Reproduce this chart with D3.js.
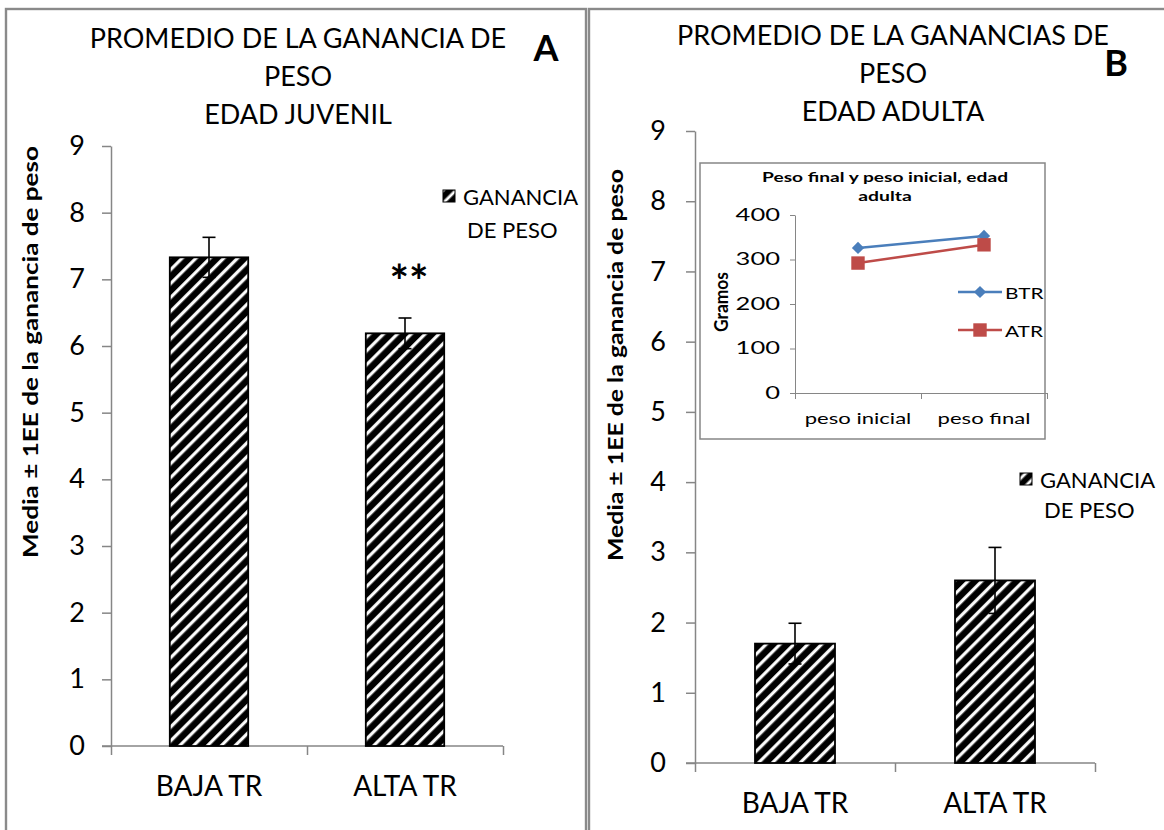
<!DOCTYPE html>
<html>
<head>
<meta charset="utf-8">
<script src="https://cdn.jsdelivr.net/npm/d3@7/dist/d3.min.js"></script>
<style>
  html, body { margin: 0; padding: 0; background: #fff; }
  svg { display: block; }
  text { font-family: Lato, "Open Sans", "Liberation Sans", sans-serif; fill: #000; }
</style>
</head>
<body>
<svg id="chart" width="1164" height="830"></svg>
<script>
// ---- data ----
const categories = ["BAJA TR", "ALTA TR"];
const juvenilMeans = [7.33, 6.19];
const juvenilErrors = [0.30, 0.23];
const adultaMeans = [1.70, 2.60];
const adultaErrors = [0.29, 0.47];
const yTicks = [0, 1, 2, 3, 4, 5, 6, 7, 8, 9];

const insetCategories = ["peso inicial", "peso final"];
const btrWeights = [326, 353];
const atrWeights = [292, 333];
const insetTicks = [0, 100, 200, 300, 400];

const svg = d3.select("#chart");
const defs = svg.append("defs");

// widen glyphs horizontally by factor k
function stretchText(sel, k) {
  sel.each(function () {
    const len = this.getComputedTextLength();
    d3.select(this).attr("textLength", len * k).attr("lengthAdjust", "spacingAndGlyphs");
  });
}
// force a text run to a given length
function fitText(sel, len) {
  sel.attr("textLength", len).attr("lengthAdjust", "spacingAndGlyphs");
}

// diagonal black/white hatch used for the bars and legend swatches
function hatch(id, period) {
  const p = defs.append("pattern")
    .attr("id", id)
    .attr("patternUnits", "userSpaceOnUse")
    .attr("width", period).attr("height", period)
    .attr("patternTransform", "rotate(45)");
  const grad = defs.append("linearGradient").attr("id", id + "-g")
    .attr("x1", 0).attr("x2", 1).attr("y1", 0).attr("y2", 0);
  [[0, "#000"], [0.56, "#000"], [0.66, "#fff"], [0.86, "#fff"], [1, "#000"]]
    .forEach(([o, c]) => grad.append("stop").attr("offset", o).attr("stop-color", c));
  p.append("rect").attr("width", period).attr("height", period)
    .attr("fill", `url(#${id}-g)`);
}
hatch("stripes", 9.8);
hatch("stripes-small", 9);

const axisGray = "#868686";

// ---- panel frames ----
svg.append("rect").attr("x", 6).attr("y", 9).attr("width", 580).attr("height", 840)
  .attr("fill", "none").attr("stroke", "#8a8a8a").attr("stroke-width", 2.4);
svg.append("rect").attr("x", 589).attr("y", 9).attr("width", 600).attr("height", 840)
  .attr("fill", "none").attr("stroke", "#8a8a8a").attr("stroke-width", 2.4);

function styleAxis(g) {
  g.selectAll(".domain").attr("stroke", axisGray).attr("stroke-width", 1.5);
  g.selectAll(".tick line").attr("stroke", axisGray).attr("stroke-width", 1.5);
}

function barPanel(opt) {
  const g = svg.append("g");
  const y = d3.scaleLinear().domain([0, 9]).range([opt.y0, opt.y9]);
  const x = d3.scaleBand().domain(categories).range([opt.xL, opt.xR])
    .paddingInner(0.6).paddingOuter(0.3);
  const xb = d3.scaleLinear().domain([0, categories.length]).range([opt.xL, opt.xR]);

  // titles
  opt.title.forEach((t, i) => {
    g.append("text").attr("x", opt.titleX).attr("y", opt.titleY + i * 38)
      .attr("text-anchor", "middle").attr("font-size", 27).text(t);
  });
  g.append("text").attr("x", opt.letterX).attr("y", opt.letterY)
    .attr("text-anchor", "middle").attr("font-size", 36).attr("font-weight", "bold")
    .text(opt.letter);

  // y axis
  const ya = g.append("g").attr("transform", `translate(${opt.xL},0)`)
    .call(d3.axisLeft(y).tickValues(yTicks).tickSize(9).tickSizeOuter(0).tickPadding(opt.tickPad));
  styleAxis(ya);
  ya.selectAll(".tick text").attr("font-size", 27).attr("font-family", "Lato, sans-serif");

  // x axis line with boundary ticks
  const xa = g.append("g").attr("transform", `translate(0,${opt.y0})`)
    .call(d3.axisBottom(xb).tickValues([0, 1, 2]).tickSize(9).tickFormat(""));
  styleAxis(xa);
  xa.select(".domain").attr("d", `M${opt.xL - 9},0H${opt.xR}`);

  // category labels
  const xl = g.append("g").attr("transform", `translate(0,${opt.y0})`)
    .call(d3.axisBottom(x).tickSize(0).tickPadding(30));
  xl.select(".domain").remove();
  xl.selectAll(".tick text").attr("font-size", 28).attr("font-family", "Lato, sans-serif");

  // y label
  g.append("text")
    .attr("transform", `translate(${opt.ylabX},${opt.ylabY}) rotate(-90)`)
    .attr("text-anchor", "middle").attr("font-size", 21).attr("font-weight", "bold")
    .text("Media ± 1EE de la ganancia de peso")
    .call(fitText, opt.ylabLen);

  // bars
  g.selectAll(".bar").data(categories).join("rect")
    .attr("x", d => x(d)).attr("width", x.bandwidth())
    .attr("y", (d, i) => y(opt.means[i]))
    .attr("height", (d, i) => y(0) - y(opt.means[i]))
    .attr("fill", "url(#stripes)").attr("stroke", "#000").attr("stroke-width", 1.8);

  // error bars (±1 EE)
  const eb = g.selectAll(".err").data(categories).join("g");
  eb.append("line")
    .attr("x1", d => x(d) + x.bandwidth() / 2).attr("x2", d => x(d) + x.bandwidth() / 2)
    .attr("y1", (d, i) => y(opt.means[i] + opt.errors[i]))
    .attr("y2", (d, i) => y(opt.means[i] - opt.errors[i]))
    .attr("stroke", "#000").attr("stroke-width", 1.6);
  [1, -1].forEach(s => {
    eb.append("line")
      .attr("x1", d => x(d) + x.bandwidth() / 2 - 6.5).attr("x2", d => x(d) + x.bandwidth() / 2 + 6.5)
      .attr("y1", (d, i) => y(opt.means[i] + s * opt.errors[i]))
      .attr("y2", (d, i) => y(opt.means[i] + s * opt.errors[i]))
      .attr("stroke", "#000").attr("stroke-width", 1.6);
  });

  // legend
  g.append("rect").attr("x", opt.legX).attr("y", opt.legY - 6).attr("width", 12).attr("height", 12)
    .attr("fill", "url(#stripes-small)").attr("stroke", "#000").attr("stroke-width", 1);
  g.append("text").attr("x", opt.legX + 20).attr("y", opt.legY).attr("dominant-baseline", "central")
    .attr("font-size", 22).text("GANANCIA");
  g.append("text").attr("x", opt.legX + 24).attr("y", opt.legY + opt.legGap).attr("dominant-baseline", "central")
    .attr("font-size", 22).text("DE PESO");

  return { g, x, y };
}

// ---- panel A: juvenile ----
const A = barPanel({
  xL: 111, xR: 503, y0: 746, y9: 146, tickPad: 17,
  means: juvenilMeans, errors: juvenilErrors,
  title: ["PROMEDIO DE LA GANANCIA DE", "PESO", "EDAD JUVENIL"],
  titleX: 298, titleY: 48,
  letter: "A", letterX: 546, letterY: 61,
  ylabX: 38, ylabY: 352, ylabLen: 412,
  legX: 443, legY: 196, legGap: 33
});
// significance marker
A.g.append("text")
  .attr("x", A.x("ALTA TR") + A.x.bandwidth() / 2 + 4)
  .attr("y", A.y(6.19 + 0.23) - 20)
  .attr("text-anchor", "middle").attr("font-size", 46).attr("font-weight", "bold")
  .attr("font-family", "'DejaVu Sans', sans-serif")
  .text("**");

// ---- panel B: adult ----
const B = barPanel({
  xL: 695, xR: 1095, y0: 763, y9: 131, tickPad: 20,
  means: adultaMeans, errors: adultaErrors,
  title: ["PROMEDIO DE LA GANANCIAS DE", "PESO", "EDAD ADULTA"],
  titleX: 893, titleY: 45,
  letter: "B", letterX: 1116, letterY: 76,
  ylabX: 623, ylabY: 365, ylabLen: 392,
  legX: 1020, legY: 479, legGap: 30
});

// ---- inset: initial vs final weight ----
const ins = svg.append("g");
ins.append("rect").attr("x", 700).attr("y", 163).attr("width", 345).attr("height", 276)
  .attr("fill", "#fff").attr("stroke", axisGray).attr("stroke-width", 1.5);
ins.append("text").attr("x", 885).attr("y", 182).attr("text-anchor", "middle")
  .attr("font-size", 13.5).attr("font-weight", "bold").text("Peso final y peso inicial, edad")
  .call(fitText, 246);
ins.append("text").attr("x", 885).attr("y", 201).attr("text-anchor", "middle")
  .attr("font-size", 13.5).attr("font-weight", "bold").text("adulta")
  .call(stretchText, 1.43);

const yi = d3.scaleLinear().domain([0, 400]).range([393, 215]);
const xi = d3.scaleBand().domain(insetCategories).range([795, 1047]);
const xib = d3.scaleLinear().domain([0, 2]).range([795, 1047]);

const yia = ins.append("g").attr("transform", "translate(795,0)")
  .call(d3.axisLeft(yi).tickValues(insetTicks).tickSize(5).tickSizeOuter(0).tickPadding(10));
styleAxis(yia);
yia.selectAll(".domain, .tick line").attr("stroke-width", 1);
yia.selectAll(".tick text").attr("font-size", 17).attr("font-family", "Lato, sans-serif")
  .call(stretchText, 1.5);

const xia = ins.append("g").attr("transform", "translate(0,393)")
  .call(d3.axisBottom(xib).tickValues([0, 1, 2]).tickSize(6).tickFormat(""));
styleAxis(xia);
xia.selectAll(".domain, .tick line").attr("stroke-width", 1);

const xil = ins.append("g").attr("transform", "translate(0,393)")
  .call(d3.axisBottom(xi).tickSize(0).tickPadding(20));
xil.select(".domain").remove();
xil.selectAll(".tick text").attr("font-size", 15).attr("font-family", "Lato, sans-serif")
  .call(stretchText, 1.47);

ins.append("text").attr("transform", "translate(728,302) rotate(-90)")
  .attr("text-anchor", "middle").attr("font-size", 19).attr("font-weight", "bold").text("Gramos")
  .call(fitText, 60);

const series = [
  { name: "BTR", values: btrWeights, color: "#4A7EBB", symbol: d3.symbolSquare, size: 75, rot: 45 },
  { name: "ATR", values: atrWeights, color: "#BE4B48", symbol: d3.symbolSquare, size: 180, rot: 0 }
];
const line = d3.line().x((d, i) => xi(insetCategories[i]) + xi.bandwidth() / 2).y(d => yi(d));
series.forEach((s, k) => {
  ins.append("path").attr("d", line(s.values)).attr("fill", "none")
    .attr("stroke", s.color).attr("stroke-width", 2.5);
  s.values.forEach((v, i) => {
    ins.append("path").attr("d", d3.symbol(s.symbol, s.size)())
      .attr("transform", `translate(${xi(insetCategories[i]) + xi.bandwidth() / 2},${yi(v)}) rotate(${s.rot})`)
      .attr("fill", s.color);
  });
  const ly = 292 + k * 38;
  ins.append("line").attr("x1", 958).attr("x2", 1002).attr("y1", ly).attr("y2", ly)
    .attr("stroke", s.color).attr("stroke-width", 2.5);
  ins.append("path").attr("d", d3.symbol(s.symbol, s.size)())
    .attr("transform", `translate(980,${ly}) rotate(${s.rot})`).attr("fill", s.color);
  ins.append("text").attr("x", 1005).attr("y", ly).attr("dominant-baseline", "central")
    .attr("font-size", 16).text(s.name)
    .call(stretchText, 1.3);
});
</script>
</body>
</html>
